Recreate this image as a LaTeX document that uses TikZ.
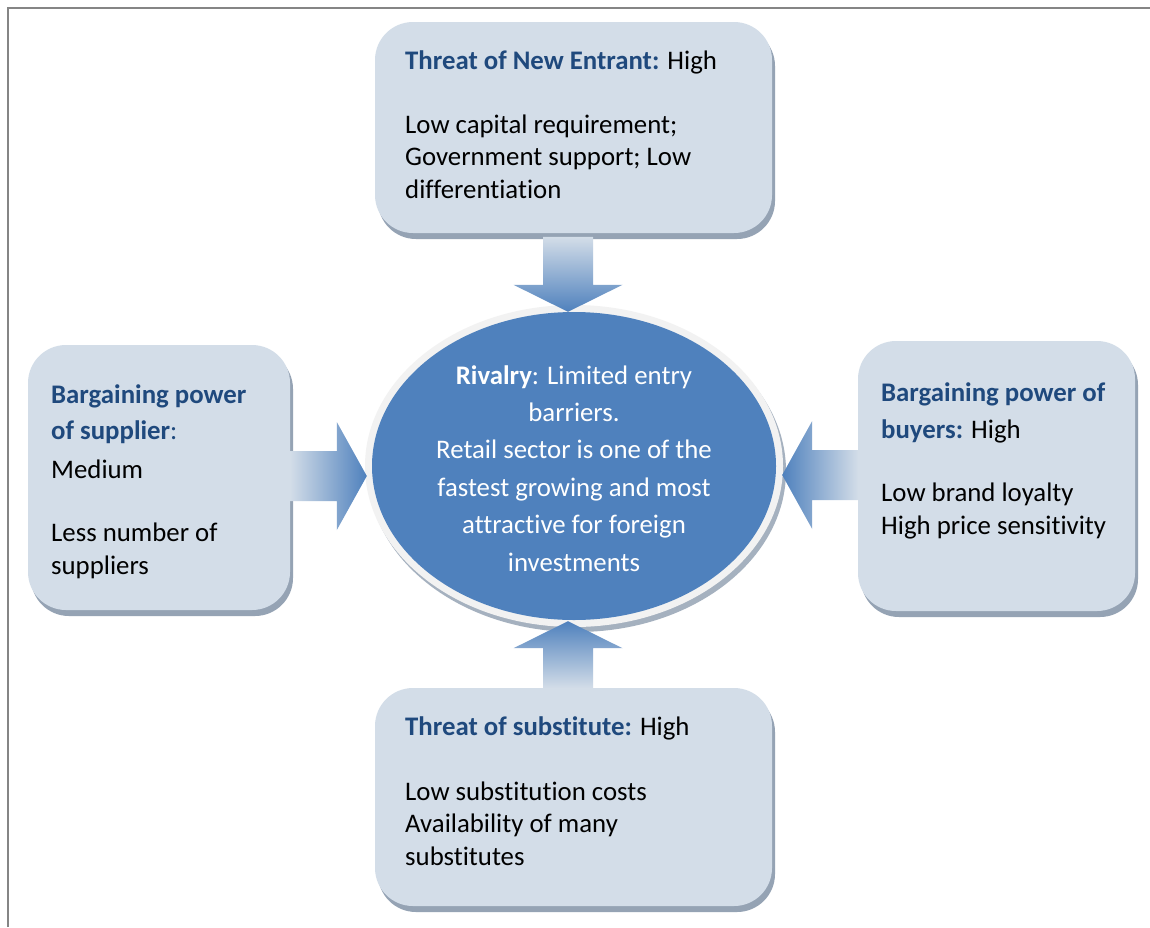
\documentclass[tikz,border=0pt]{standalone}
\usepackage{fontspec}
\setmainfont{Carlito}[Ligatures=NoCommon]
\usetikzlibrary{shadows,calc,shapes.geometric}
\definecolor{boxfill}{HTML}{D3DDE8}
\definecolor{boxshadow}{HTML}{95A3B4}
\definecolor{ellfill}{HTML}{4F81BD}
\definecolor{ringfill}{HTML}{F2F2F2}
\definecolor{titleblue}{HTML}{1F497D}
\definecolor{framegray}{HTML}{858585}
\newcommand\forcetitle[1]{\textcolor{titleblue}{\textbf{#1}}}
\begin{document}
\begin{tikzpicture}[x=1pt,y=-1pt,
  forcebox/.style={rectangle, rounded corners=38pt, fill=boxfill, draw=none, inner sep=0pt,
    drop shadow={shadow xshift=3pt, shadow yshift=-6pt, fill=boxshadow, opacity=1}},
  boxtext/.style={anchor=base west, align=left, inner sep=0pt,
    font=\fontsize{26.8}{32.5}\selectfont, text=black},
  arrowshade/.style={draw=none}
]
\useasboundingbox (0,0) rectangle (1150,927);
\fill[white] (0,0) rectangle (1150,927);
\draw[framegray, line width=2pt] (8,927) -- (8,8) -- (1150,8);

% boxes
\node[forcebox, minimum width=397, minimum height=211] (topbox) at (573.5,127.5) {};
\node[forcebox, minimum width=262, minimum height=265] (leftbox) at (159,477.5) {};
\node[forcebox, minimum width=277, minimum height=270] (rightbox) at (996.5,476) {};
\node[forcebox, minimum width=397, minimum height=218] (botbox) at (573.5,797) {};

% central ellipse
\node[ellipse, minimum width=418, minimum height=322, fill=ringfill, draw=none, inner sep=0pt,
  drop shadow={shadow xshift=3pt, shadow yshift=-5pt, fill=boxshadow!85, opacity=1}] (ring) at (574,466) {};
\node[ellipse, minimum width=404, minimum height=308, fill=ellfill, draw=none, inner sep=0pt] (rival) at (574,466) {};

% block arrows
\coordinate (tTip) at ($(rival.north)+(-6,0)$);
\coordinate (lTip) at ($(rival.west)+(-5,10)$);
\coordinate (rTip) at ($(rival.east)+(6,9)$);
\coordinate (bTip) at ($(rival.south)+(-6,1)$);
\shade[arrowshade, top color=boxfill, bottom color=ellfill]
  (tTip) -- ++(54.5,-27) -- ++(-29.5,0) -- ++(0,-48) -- ++(-50,0) -- ++(0,48) -- ++(-29.5,0) -- cycle;
\shade[arrowshade, left color=boxfill, right color=ellfill]
  (lTip) -- ++(-30,-54) -- ++(0,29) -- ++(-47,0) -- ++(0,50) -- ++(47,0) -- ++(0,29) -- cycle;
\shade[arrowshade, left color=ellfill, right color=boxfill]
  (rTip) -- ++(30,-54) -- ++(0,29) -- ++(46,0) -- ++(0,50) -- ++(-46,0) -- ++(0,29) -- cycle;
\shade[arrowshade, top color=ellfill, bottom color=boxfill]
  (bTip) -- ++(54.5,27) -- ++(-29.5,0) -- ++(0,40) -- ++(-50,0) -- ++(0,-40) -- ++(-29.5,0) -- cycle;

% texts (anchored at the baseline of the last line)
\node[boxtext] (topTxt) at (405,198) {\forcetitle{Threat of New Entrant:} High\\[31.5pt]
  Low capital requirement;\\ Government support; Low\\ differentiation};
\node[boxtext] (leftTxt) at (51,574) {\forcetitle{Bargaining power}\\[3.5pt]
  \forcetitle{of supplier}\textcolor{titleblue}{:}\\[6.5pt] Medium\\[30.5pt] Less number of\\[0.5pt] suppliers};
\node[boxtext] (rightTxt) at (881,534) {\forcetitle{Bargaining power of}\\[4.5pt]
  \forcetitle{buyers:} High\\[30.5pt] Low brand loyalty\\[0.5pt] High price sensitivity};
\node[boxtext] (botTxt) at (405,865) {\forcetitle{Threat of substitute:} High\\[32.5pt]
  Low substitution costs\\ Availability of many\\ substitutes};
\node[anchor=base, align=center, inner sep=0pt, text=white,
  font=\fontsize{26.8}{37.4}\selectfont] (rivTxt) at (574,571)
  {\textbf{Rivalry}: Limited entry\\ barriers.\\ Retail sector is one of the\\
   fastest growing and most\\ attractive for foreign\\ investments};
\end{tikzpicture}
\end{document}
